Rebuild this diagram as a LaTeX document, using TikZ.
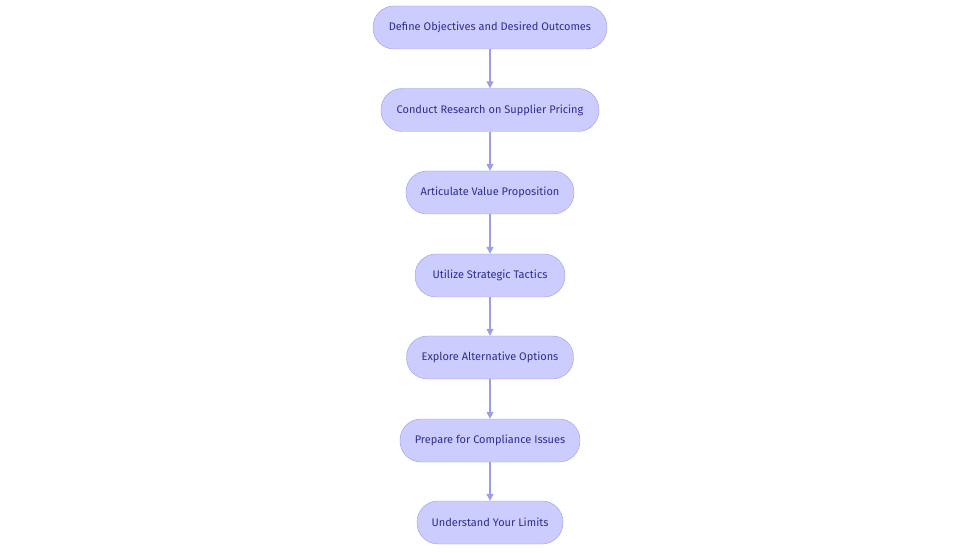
\documentclass[tikz,border=0pt]{standalone}
\usepackage{fontspec}
\setmainfont{Fira Sans}
\usetikzlibrary{arrows.meta}
\definecolor{fillc}{HTML}{CCCCFF}
\definecolor{strokec}{HTML}{9C9CE8}
\definecolor{textc}{HTML}{2E2E8A}
\tikzset{box/.style={draw=strokec,fill=fillc,rounded corners=21pt,minimum height=43pt,inner sep=0pt,text=textc,font=\fontsize{11}{13}\selectfont},
conn/.style={draw=strokec,line width=1.2pt,-{Triangle[length=7pt,width=7pt]}}}
\begin{document}
\begin{tikzpicture}[x=1pt,y=-1pt]
\useasboundingbox (0,0) rectangle (980,553);
\node[box,minimum width=234pt] (a) at (490,27.5) {Define Objectives and Desired Outcomes};
\node[box,minimum width=218pt] (b) at (490,110) {Conduct Research on Supplier Pricing};
\node[box,minimum width=168pt] (c) at (490,192.5) {Articulate Value Proposition};
\node[box,minimum width=150pt] (d) at (490,275.5) {Utilize Strategic Tactics};
\node[box,minimum width=167pt] (e) at (490,357.5) {Explore Alternative Options};
\node[box,minimum width=180pt] (f) at (490,440.5) {Prepare for Compliance Issues};
\node[box,minimum width=146pt] (g) at (490,522.5) {Understand Your Limits};
\foreach \p/\q in {a/b,b/c,c/d,d/e,e/f,f/g} \draw[conn] (\p) -- (\q);
\end{tikzpicture}
\end{document}
